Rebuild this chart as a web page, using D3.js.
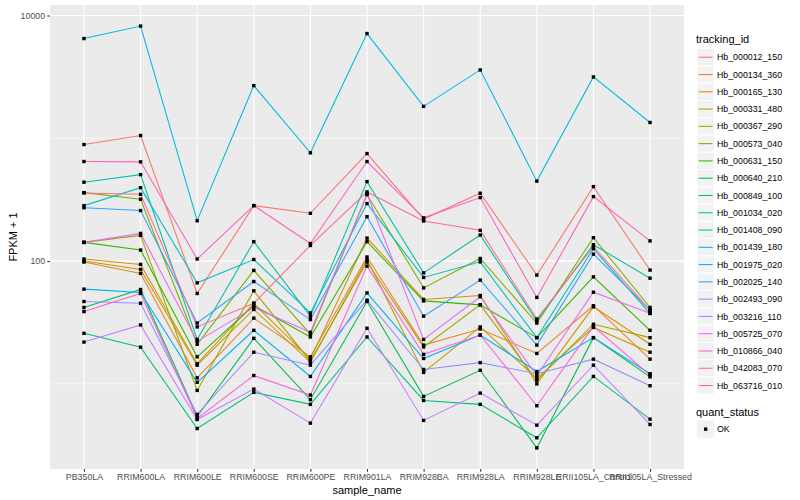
<!DOCTYPE html>
<html>
<head>
<meta charset="utf-8">
<script src="https://cdn.jsdelivr.net/npm/d3@7"></script>
<style>
  body { margin: 0; background: #fff; }
  text { font-family: "Liberation Sans", Arial, sans-serif; }
</style>
</head>
<body>
<svg id="chart" width="800" height="500"></svg>
<script>
let samples = ["PB350LA", "RRIM600LA", "RRIM600LE", "RRIM600SE", "RRIM600PE", "RRIM901LA",
  "RRIM928BA", "RRIM928LA", "RRIM928LE", "RRII105LA_Control", "RRII105LA_Stressed"];

let trackingIds = ["Hb_000012_150", "Hb_000134_360", "Hb_000165_130", "Hb_000331_480", "Hb_000367_290",
  "Hb_000573_040", "Hb_000631_150", "Hb_000640_210", "Hb_000849_100", "Hb_001034_020",
  "Hb_001408_090", "Hb_001439_180", "Hb_001975_020", "Hb_002025_140", "Hb_002493_090",
  "Hb_003216_110", "Hb_005725_070", "Hb_010866_040", "Hb_042083_070", "Hb_063716_010"];

let colors = ["#F8766D", "#EA8331", "#D89000", "#C09B00", "#A3A500", "#7CAE00", "#39B600", "#00BB4E",
  "#00BF7D", "#00C1A3", "#00BFC4", "#00BAE0", "#00B0F6", "#35A2FF", "#9590FF", "#C77CFF",
  "#E76BF3", "#FA62DB", "#FF62BC", "#FF6C91"];

// FPKM + 1, one array per tracking_id, in sample order
let hb_000012_150 = [889, 1054, 54.5, 283, 245, 751, 220, 357, 76.9, 404, 84.5];
let hb_000134_360 = [98.2, 79.4, 11.2, 34.3, 16.6, 108, 20.7, 28.0, 17.7, 43.3, 15.9];
let hb_000165_130 = [104, 94.0, 14.6, 45.2, 15.9, 154, 48.7, 52.5, 10.0, 42.4, 21.0];
let hb_000331_480 = [100, 85.5, 14.2, 40.4, 15.0, 103, 12.4, 29.1, 11.1, 28.8, 18.1];
let hb_000367_290 = [142, 162, 8.85, 57.3, 15.3, 98.2, 20.0, 44.0, 10.7, 30.6, 23.8];
let hb_000573_040 = [361, 319, 21.0, 84.0, 25.4, 348, 60.5, 105, 31.3, 155, 41.9];
let hb_000631_150 = [142, 123, 16.6, 43.5, 24.1, 144, 47.4, 44.0, 23.8, 74.4, 27.3];
let hb_000640_210 = [41.9, 58.7, 5.43, 23.5, 7.43, 46.9, 7.91, 12.9, 3.01, 23.8, 11.4];
let hb_000849_100 = [25.8, 19.9, 4.33, 8.53, 6.81, 24.1, 7.33, 6.81, 3.64, 11.5, 5.16];
let hb_001034_020 = [439, 506, 23.0, 144, 35.6, 444, 80.2, 163, 32.6, 136, 72.6];
let hb_001408_090 = [283, 396, 66.5, 103, 37.8, 294, 73.6, 98.6, 23.8, 126, 37.4];
let hb_001439_180 = [6490, 8200, 213, 2685, 762, 7130, 1820, 3605, 448, 3160, 1345];
let hb_001975_020 = [59.1, 55.5, 10.3, 27.3, 11.5, 55.1, 16.1, 25.0, 12.6, 23.8, 12.1];
let hb_002025_140 = [272, 258, 31.3, 68.2, 33.4, 230, 35.6, 70.0, 20.7, 114, 39.8];
let hb_002493_090 = [46.9, 45.4, 5.64, 18.1, 14.2, 48.1, 13.1, 14.9, 12.1, 15.9, 9.66];
let hb_003216_110 = [21.9, 30.2, 5.13, 9.07, 4.79, 28.4, 5.04, 8.41, 4.61, 14.2, 4.67];
let hb_005725_070 = [142, 168, 22.2, 41.9, 26.3, 352, 23.0, 51.2, 11.7, 55.8, 37.6];
let hb_010866_040 = [38.8, 54.5, 5.23, 11.7, 8.11, 91.0, 17.4, 25.0, 6.64, 29.4, 11.8];
let hb_042083_070 = [647, 643, 104, 283, 139, 647, 225, 329, 50.6, 335, 146];
let hb_063716_010 = [359, 350, 29.1, 45.4, 134, 366, 212, 178, 33.8, 131, 39.8];

let seriesValues = [hb_000012_150, hb_000134_360, hb_000165_130, hb_000331_480, hb_000367_290,
  hb_000573_040, hb_000631_150, hb_000640_210, hb_000849_100, hb_001034_020,
  hb_001408_090, hb_001439_180, hb_001975_020, hb_002025_140, hb_002493_090,
  hb_003216_110, hb_005725_070, hb_010866_040, hb_042083_070, hb_063716_010];

let yTicks = [100, 10000];
let yMinor = [10, 1000];

let svg = d3.select("svg#chart");
let panel = { "left": 50, "right": 684, "top": 5, "bottom": 469 };

let series = trackingIds.map(function(id, i) {
  return { id: id, color: colors[i], values: seriesValues[i].map((v, j) => ({ sample: samples[j], val: v })) };
});

let allVals = [].concat(...seriesValues);
let lmin = Math.log10(d3.min(allVals)), lmax = Math.log10(d3.max(allVals));
let pad = (lmax - lmin) * 0.05;

let xScale = d3.scalePoint().domain(samples).range([panel.left, panel.right]).padding(0.6);
let yScale = d3.scaleLog().domain([Math.pow(10, lmin - pad), Math.pow(10, lmax + pad)]).range([panel.bottom, panel.top]);

// panel background
svg.append("rect").attr("x", panel.left).attr("y", panel.top)
  .attr("width", panel.right - panel.left).attr("height", panel.bottom - panel.top)
  .attr("fill", "#EBEBEB");

// grid
svg.append("g").selectAll("line").data(yMinor).join("line")
  .attr("x1", panel.left).attr("x2", panel.right)
  .attr("y1", d => yScale(d)).attr("y2", d => yScale(d))
  .attr("stroke", "#fff").attr("stroke-width", 0.55);
svg.append("g").selectAll("line").data(yTicks).join("line")
  .attr("x1", panel.left).attr("x2", panel.right)
  .attr("y1", d => yScale(d)).attr("y2", d => yScale(d))
  .attr("stroke", "#fff").attr("stroke-width", 1.1);
svg.append("g").selectAll("line").data(samples).join("line")
  .attr("x1", d => xScale(d)).attr("x2", d => xScale(d))
  .attr("y1", panel.top).attr("y2", panel.bottom)
  .attr("stroke", "#fff").attr("stroke-width", 1.1);

// lines
let path = d3.line().x(d => xScale(d.sample)).y(d => yScale(d.val));
svg.append("g").selectAll("path").data(series).join("path")
  .attr("d", d => path(d.values))
  .attr("fill", "none").attr("stroke", d => d.color).attr("stroke-width", 1.07);

// points
let pts = [].concat(...series.map(s => s.values));
svg.append("g").selectAll("rect").data(pts).join("rect")
  .attr("x", d => xScale(d.sample) - 1.7).attr("y", d => yScale(d.val) - 1.7)
  .attr("width", 3.4).attr("height", 3.4).attr("fill", "#000");

// axes
let yAxis = d3.axisLeft(yScale).tickValues(yTicks).tickFormat(d3.format("d")).tickSize(2.75).tickPadding(2.2);
let gy = svg.append("g").attr("transform", "translate(" + panel.left + ",0)").call(yAxis);
let xAxis = d3.axisBottom(xScale).tickSize(2.75).tickPadding(2.2);
let gx = svg.append("g").attr("transform", "translate(0," + panel.bottom + ")").call(xAxis);
[gy, gx].forEach(function(g) {
  g.select(".domain").remove();
  g.selectAll(".tick line").attr("stroke", "#333333").attr("stroke-width", 1.07);
  g.selectAll(".tick text").attr("fill", "#4D4D4D").style("font-size", "8.8px")
    .style("font-family", "'Liberation Sans', Arial, sans-serif");
});

svg.append("text").attr("transform", "translate(" + ((panel.left + panel.right) / 2) + "," + 494 + ")")
  .style("text-anchor", "middle").style("font-size", "11px").text("sample_name");
svg.append("text").attr("transform", "translate(" + 17 + "," + ((panel.top + panel.bottom) / 2) + ")rotate(270)")
  .style("text-anchor", "middle").style("font-size", "11px").text("FPKM + 1");

// legend: tracking_id
let lx = 697, ly = 48.6, key = 17.28;
svg.append("text").attr("x", lx - 1).attr("y", 43).style("font-size", "11px").text("tracking_id");
let lg = svg.append("g").selectAll("g").data(series).join("g")
  .attr("transform", (d, i) => "translate(" + lx + "," + (ly + i * key) + ")");
lg.append("rect").attr("width", key).attr("height", key).attr("fill", "#F2F2F2")
  .attr("stroke", "#fff").attr("stroke-width", 1);
lg.append("line").attr("x1", 1.7).attr("x2", key - 1.7).attr("y1", key / 2).attr("y2", key / 2)
  .attr("stroke", d => d.color).attr("stroke-width", 1.07);
lg.append("text").attr("x", key + 2.7).attr("y", key / 2 + 3.1).style("font-size", "8.8px").text(d => d.id);

// legend: quant_status
svg.append("text").attr("x", lx - 1).attr("y", 416).style("font-size", "11px").text("quant_status");
let qg = svg.append("g").attr("transform", "translate(" + lx + "," + 420.5 + ")");
qg.append("rect").attr("width", key).attr("height", key).attr("fill", "#F2F2F2");
qg.append("rect").attr("x", key / 2 - 1.7).attr("y", key / 2 - 1.7).attr("width", 3.4).attr("height", 3.4).attr("fill", "#000");
qg.append("text").attr("x", key + 2.7).attr("y", key / 2 + 3.1).style("font-size", "8.8px").text("OK");
</script>
</body>
</html>
